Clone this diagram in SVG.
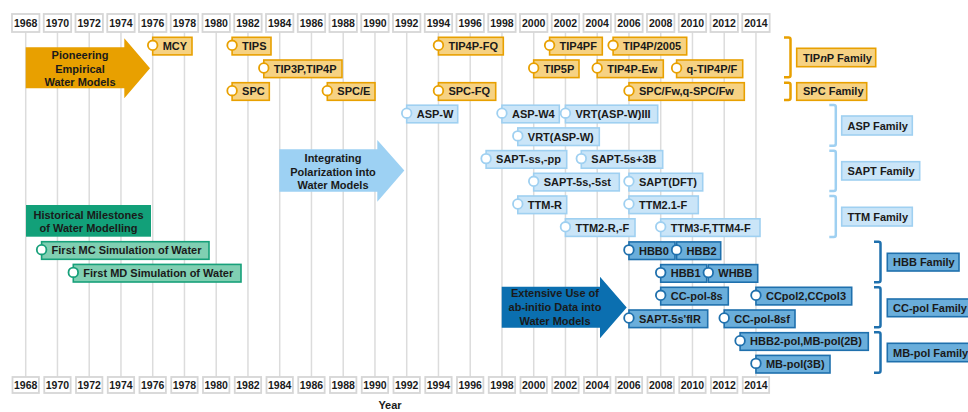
<svg xmlns="http://www.w3.org/2000/svg" width="968" height="412" viewBox="0 0 968 412">
<style>
text{font-family:"Liberation Sans",Arial,sans-serif;font-weight:bold;font-size:11px;fill:#1a1a1a}
.yr{font-size:10.5px;text-anchor:middle}
.ybox{fill:#fff;stroke:#d6d6d6;stroke-width:1.8}
.grid{stroke:#dcdcdc;stroke-width:1.5}
.o rect{fill:#f6d283;stroke:#e8a000;stroke-width:1.6}
.o circle{fill:#fff;stroke:#e8a000;stroke-width:1.8}
.l rect{fill:#cae5f8;stroke:#9fd0f1;stroke-width:1.6}
.l circle{fill:#fff;stroke:#9fd0f1;stroke-width:1.8}
.d rect{fill:#6aaedb;stroke:#1f70ad;stroke-width:1.6}
.d circle{fill:#fff;stroke:#1f70ad;stroke-width:1.8}
.g rect{fill:#80cfb2;stroke:#17a07a;stroke-width:1.6}
.g circle{fill:#fff;stroke:#17a07a;stroke-width:1.8}
.br{fill:none;stroke-width:2.5;stroke-linejoin:round}
.mid{text-anchor:middle}
</style>
<g id="grid">
<g class="grid">
<line x1="25.7" y1="32" x2="25.7" y2="377"/><line x1="57.45" y1="32" x2="57.45" y2="377"/><line x1="89.2" y1="32" x2="89.2" y2="377"/><line x1="120.95" y1="32" x2="120.95" y2="377"/><line x1="152.7" y1="32" x2="152.7" y2="377"/><line x1="184.45" y1="32" x2="184.45" y2="377"/><line x1="216.2" y1="32" x2="216.2" y2="377"/><line x1="247.95" y1="32" x2="247.95" y2="377"/><line x1="279.7" y1="32" x2="279.7" y2="377"/><line x1="311.45" y1="32" x2="311.45" y2="377"/><line x1="343.2" y1="32" x2="343.2" y2="377"/><line x1="374.95" y1="32" x2="374.95" y2="377"/><line x1="406.7" y1="32" x2="406.7" y2="377"/><line x1="438.45" y1="32" x2="438.45" y2="377"/><line x1="470.2" y1="32" x2="470.2" y2="377"/><line x1="501.95" y1="32" x2="501.95" y2="377"/><line x1="533.7" y1="32" x2="533.7" y2="377"/><line x1="565.45" y1="32" x2="565.45" y2="377"/><line x1="597.2" y1="32" x2="597.2" y2="377"/><line x1="628.95" y1="32" x2="628.95" y2="377"/><line x1="660.7" y1="32" x2="660.7" y2="377"/><line x1="692.45" y1="32" x2="692.45" y2="377"/><line x1="724.2" y1="32" x2="724.2" y2="377"/><line x1="755.95" y1="32" x2="755.95" y2="377"/>
</g>
</g>
<g id="axis-top">
<g class="ybox">
<rect x="12" y="14" width="27.4" height="18"/><rect x="43.75" y="14" width="27.4" height="18"/><rect x="75.5" y="14" width="27.4" height="18"/><rect x="107.25" y="14" width="27.4" height="18"/><rect x="139" y="14" width="27.4" height="18"/><rect x="170.75" y="14" width="27.4" height="18"/><rect x="202.5" y="14" width="27.4" height="18"/><rect x="234.25" y="14" width="27.4" height="18"/><rect x="266" y="14" width="27.4" height="18"/><rect x="297.75" y="14" width="27.4" height="18"/><rect x="329.5" y="14" width="27.4" height="18"/><rect x="361.25" y="14" width="27.4" height="18"/><rect x="393" y="14" width="27.4" height="18"/><rect x="424.75" y="14" width="27.4" height="18"/><rect x="456.5" y="14" width="27.4" height="18"/><rect x="488.25" y="14" width="27.4" height="18"/><rect x="520" y="14" width="27.4" height="18"/><rect x="551.75" y="14" width="27.4" height="18"/><rect x="583.5" y="14" width="27.4" height="18"/><rect x="615.25" y="14" width="27.4" height="18"/><rect x="647" y="14" width="27.4" height="18"/><rect x="678.75" y="14" width="27.4" height="18"/><rect x="710.5" y="14" width="27.4" height="18"/><rect x="742.25" y="14" width="27.4" height="18"/>
</g>
<g class="yr">
<text class="yr" x="25.7" y="27">1968</text><text class="yr" x="57.45" y="27">1970</text><text class="yr" x="89.2" y="27">1972</text><text class="yr" x="120.95" y="27">1974</text><text class="yr" x="152.7" y="27">1976</text><text class="yr" x="184.45" y="27">1978</text><text class="yr" x="216.2" y="27">1980</text><text class="yr" x="247.95" y="27">1982</text><text class="yr" x="279.7" y="27">1984</text><text class="yr" x="311.45" y="27">1986</text><text class="yr" x="343.2" y="27">1988</text><text class="yr" x="374.95" y="27">1990</text><text class="yr" x="406.7" y="27">1992</text><text class="yr" x="438.45" y="27">1994</text><text class="yr" x="470.2" y="27">1996</text><text class="yr" x="501.95" y="27">1998</text><text class="yr" x="533.7" y="27">2000</text><text class="yr" x="565.45" y="27">2002</text><text class="yr" x="597.2" y="27">2004</text><text class="yr" x="628.95" y="27">2006</text><text class="yr" x="660.7" y="27">2008</text><text class="yr" x="692.45" y="27">2010</text><text class="yr" x="724.2" y="27">2012</text><text class="yr" x="755.95" y="27">2014</text>
</g>
</g>
<g id="axis-bottom">
<g class="ybox">
<rect x="12.5" y="377" width="26.4" height="16"/><rect x="44.25" y="377" width="26.4" height="16"/><rect x="76" y="377" width="26.4" height="16"/><rect x="107.75" y="377" width="26.4" height="16"/><rect x="139.5" y="377" width="26.4" height="16"/><rect x="171.25" y="377" width="26.4" height="16"/><rect x="203" y="377" width="26.4" height="16"/><rect x="234.75" y="377" width="26.4" height="16"/><rect x="266.5" y="377" width="26.4" height="16"/><rect x="298.25" y="377" width="26.4" height="16"/><rect x="330" y="377" width="26.4" height="16"/><rect x="361.75" y="377" width="26.4" height="16"/><rect x="393.5" y="377" width="26.4" height="16"/><rect x="425.25" y="377" width="26.4" height="16"/><rect x="457" y="377" width="26.4" height="16"/><rect x="488.75" y="377" width="26.4" height="16"/><rect x="520.5" y="377" width="26.4" height="16"/><rect x="552.25" y="377" width="26.4" height="16"/><rect x="584" y="377" width="26.4" height="16"/><rect x="615.75" y="377" width="26.4" height="16"/><rect x="647.5" y="377" width="26.4" height="16"/><rect x="679.25" y="377" width="26.4" height="16"/><rect x="711" y="377" width="26.4" height="16"/><rect x="742.75" y="377" width="26.4" height="16"/>
</g>
<g>
<text class="yr" x="25.7" y="389">1968</text><text class="yr" x="57.45" y="389">1970</text><text class="yr" x="89.2" y="389">1972</text><text class="yr" x="120.95" y="389">1974</text><text class="yr" x="152.7" y="389">1976</text><text class="yr" x="184.45" y="389">1978</text><text class="yr" x="216.2" y="389">1980</text><text class="yr" x="247.95" y="389">1982</text><text class="yr" x="279.7" y="389">1984</text><text class="yr" x="311.45" y="389">1986</text><text class="yr" x="343.2" y="389">1988</text><text class="yr" x="374.95" y="389">1990</text><text class="yr" x="406.7" y="389">1992</text><text class="yr" x="438.45" y="389">1994</text><text class="yr" x="470.2" y="389">1996</text><text class="yr" x="501.95" y="389">1998</text><text class="yr" x="533.7" y="389">2000</text><text class="yr" x="565.45" y="389">2002</text><text class="yr" x="597.2" y="389">2004</text><text class="yr" x="628.95" y="389">2006</text><text class="yr" x="660.7" y="389">2008</text><text class="yr" x="692.45" y="389">2010</text><text class="yr" x="724.2" y="389">2012</text><text class="yr" x="755.95" y="389">2014</text>
</g>
<text class="mid" x="390" y="409">Year</text>
</g>

<g id="arrows">
<g id="arrow-pioneering">
<polygon points="25.7,47.3 124.3,47.3 124.3,38.3 150,68.3 124.3,98.3 124.3,88.3 25.7,88.3" fill="#e8a000"/>
<text class="mid" x="80" y="59">Pioneering</text>
<text class="mid" x="80" y="72.5">Empirical</text>
<text class="mid" x="80" y="86">Water Models</text>
</g>
<g id="arrow-polarization">
<polygon points="279.3,149.3 377.3,149.3 377.3,140 404.3,170.5 377.3,201.7 377.3,191.7 279.3,191.7" fill="#9dd1f3"/>
<text class="mid" x="333" y="162.3">Integrating</text>
<text class="mid" x="333" y="175.7">Polarization into</text>
<text class="mid" x="333" y="188.8">Water Models</text>
</g>
<g id="arrow-abinitio">
<polygon points="501.7,286.7 600,286.7 600,276.7 626.7,307.5 600,338.3 600,327.7 501.7,327.7" fill="#0b6fb0"/>
<text class="mid" x="555" y="297.3">Extensive Use of</text>
<text class="mid" x="555" y="311.2">ab-initio Data into</text>
<text class="mid" x="555" y="324.7">Water Models</text>
</g>
</g>

<g id="historical">
<rect x="26" y="205" width="125" height="31.7" fill="#12a079"/>
<text class="mid" x="88.5" y="219">Historical Milestones</text>
<text class="mid" x="88.5" y="232.3">of Water Modelling</text>
</g>

<g id="connectors">
<path class="br" stroke="#e8a000" d="M784,37.5 h4.5 q2,0 2,2 v35.8 q0,2 -2,2 h-4.5"/>
<path class="br" stroke="#e8a000" d="M784,82.7 h4.5 q2,0 2,2 v13.3 q0,2 -2,2 h-4.5"/>
<path class="br" stroke="#9fd0f1" d="M829.3,105 h4.5 q2,0 2,2 v36.7 q0,2 -2,2 h-4.5"/>
<path class="br" stroke="#9fd0f1" d="M829.3,150.7 h4.5 q2,0 2,2 v36.3 q0,2 -2,2 h-4.5"/>
<path class="br" stroke="#9fd0f1" d="M829.3,196 h4.5 q2,0 2,2 v37 q0,2 -2,2 h-4.5"/>
<path class="br" stroke="#1f70ad" d="M874,241.7 h4.5 q2,0 2,2 v36.6 q0,2 -2,2 h-4.5"/>
<path class="br" stroke="#1f70ad" d="M874,287.3 h4.5 q2,0 2,2 v36 q0,2 -2,2 h-4.5"/>
<path class="br" stroke="#1f70ad" d="M874,332.3 h4.5 q2,0 2,2 v36.4 q0,2 -2,2 h-4.5"/>
</g>

<g class="o">
<g id="mcy"><rect x="152.7" y="37.3" width="39.3" height="17.6"/><circle cx="152.7" cy="45.3" r="4.8"/><text x="162.7" y="50">MCY</text></g>
<g id="tips"><rect x="232.1" y="37.3" width="38.9" height="17.6"/><circle cx="232.1" cy="45.3" r="4.8"/><text x="242.1" y="50">TIPS</text></g>
<g id="tip4p-fq"><rect x="438.45" y="37.3" width="64.85" height="17.6"/><circle cx="438.45" cy="45.3" r="4.8"/><text x="448.45" y="50">TIP4P-FQ</text></g>
<g id="tip4pf"><rect x="549.6" y="37.3" width="52.7" height="17.6"/><circle cx="549.6" cy="45.3" r="4.8"/><text x="559.6" y="50">TIP4PF</text></g>
<g id="tip4p2005"><rect x="613.1" y="37.3" width="73.6" height="17.6"/><circle cx="613.1" cy="45.3" r="4.8"/><text x="623.1" y="50">TIP4P/2005</text></g>
<g id="tip3p"><rect x="263.8" y="60" width="78.2" height="17.6"/><circle cx="263.8" cy="68" r="4.8"/><text x="273.8" y="72.7">TIP3P,TIP4P</text></g>
<g id="tip5p"><rect x="533.7" y="60" width="45.3" height="17.6"/><circle cx="533.7" cy="68" r="4.8"/><text x="543.7" y="72.7">TIP5P</text></g>
<g id="tip4p-ew"><rect x="597.2" y="60" width="66.1" height="17.6"/><circle cx="597.2" cy="68" r="4.8"/><text x="607.2" y="72.7">TIP4P-Ew</text></g>
<g id="q-tip4pf"><rect x="676.6" y="60" width="66.1" height="17.6"/><circle cx="676.6" cy="68" r="4.8"/><text x="686.6" y="72.7">q-TIP4P/F</text></g>
<g id="spc"><rect x="232.1" y="82.7" width="37.2" height="17.6"/><circle cx="232.1" cy="90.7" r="4.8"/><text x="242.1" y="95.4">SPC</text></g>
<g id="spce"><rect x="327.3" y="82.7" width="47.7" height="17.6"/><circle cx="327.3" cy="90.7" r="4.8"/><text x="337.3" y="95.4">SPC/E</text></g>
<g id="spc-fq"><rect x="438.45" y="82.7" width="57.25" height="17.6"/><circle cx="438.45" cy="90.7" r="4.8"/><text x="448.45" y="95.4">SPC-FQ</text></g>
<g id="spcfw"><rect x="629" y="82.7" width="115.3" height="17.6"/><circle cx="629" cy="90.7" r="4.8"/><text x="639" y="95.4">SPC/Fw,q-SPC/Fw</text></g>
<g id="fam-tipnp"><rect x="796.7" y="48.3" width="79" height="18.4"/><text x="803" y="61.5">TIP<tspan font-style="italic">n</tspan>P Family</text></g>
<g id="fam-spc"><rect x="796.7" y="82.7" width="70" height="17.6"/><text x="803" y="95.4">SPC Family</text></g>
</g>

<g class="l">
<g id="asp-w"><rect x="406.7" y="105.2" width="51" height="17.6"/><circle cx="406.7" cy="113.2" r="4.8"/><text x="416.7" y="117.9">ASP-W</text></g>
<g id="asp-w4"><rect x="501.95" y="105.2" width="57.35" height="17.6"/><circle cx="501.95" cy="113.2" r="4.8"/><text x="511.95" y="117.9">ASP-W4</text></g>
<g id="vrt3"><rect x="565.45" y="105.2" width="92.25" height="17.6"/><circle cx="565.45" cy="113.2" r="4.8"/><text x="575.45" y="117.9">VRT(ASP-W)III</text></g>
<g id="vrt"><rect x="517.8" y="127.9" width="81.5" height="17.6"/><circle cx="517.8" cy="135.9" r="4.8"/><text x="527.8" y="140.6">VRT(ASP-W)</text></g>
<g id="sapt-ss"><rect x="486.1" y="150.6" width="80.6" height="17.6"/><circle cx="486.1" cy="158.6" r="4.8"/><text x="496.1" y="163.3">SAPT-ss,-pp</text></g>
<g id="sapt-5s3b"><rect x="581.3" y="150.6" width="81.4" height="17.6"/><circle cx="581.3" cy="158.6" r="4.8"/><text x="591.3" y="163.3">SAPT-5s+3B</text></g>
<g id="sapt-5s"><rect x="533.7" y="173.3" width="85.6" height="17.6"/><circle cx="533.7" cy="181.3" r="4.8"/><text x="543.7" y="186">SAPT-5s,-5st</text></g>
<g id="sapt-dft"><rect x="628.95" y="173.3" width="73.75" height="17.6"/><circle cx="628.95" cy="181.3" r="4.8"/><text x="638.95" y="186">SAPT(DFT)</text></g>
<g id="ttm-r"><rect x="517.8" y="196" width="48.9" height="17.6"/><circle cx="517.8" cy="204" r="4.8"/><text x="527.8" y="208.7">TTM-R</text></g>
<g id="ttm21"><rect x="628.95" y="196" width="69.35" height="17.6"/><circle cx="628.95" cy="204" r="4.8"/><text x="638.95" y="208.7">TTM2.1-F</text></g>
<g id="ttm2r"><rect x="565.45" y="218.8" width="69.55" height="17.6"/><circle cx="565.45" cy="226.8" r="4.8"/><text x="575.45" y="231.5">TTM2-R,-F</text></g>
<g id="ttm34"><rect x="660.7" y="218.8" width="99.3" height="17.6"/><circle cx="660.7" cy="226.8" r="4.8"/><text x="670.7" y="231.5">TTM3-F,TTM4-F</text></g>
<g id="fam-asp"><rect x="841.7" y="116" width="70.6" height="19"/><text x="847.5" y="129.6">ASP Family</text></g>
<g id="fam-sapt"><rect x="841.7" y="161.7" width="78" height="18.3"/><text x="847.5" y="175">SAPT Family</text></g>
<g id="fam-ttm"><rect x="841.7" y="207.3" width="70.6" height="18.7"/><text x="847.5" y="220.7">TTM Family</text></g>
</g>

<g class="d">
<g id="hbb0"><rect x="628.95" y="241.9" width="46.05" height="17.6"/><circle cx="628.95" cy="249.9" r="4.8"/><text x="638.95" y="254.6">HBB0</text></g>
<g id="hbb2"><rect x="676.6" y="241.9" width="44.1" height="17.6"/><circle cx="676.6" cy="249.9" r="4.8"/><text x="686.6" y="254.6">HBB2</text></g>
<g id="hbb1"><rect x="660.7" y="264.6" width="46" height="17.6"/><circle cx="660.7" cy="272.6" r="4.8"/><text x="670.7" y="277.3">HBB1</text></g>
<g id="whbb"><rect x="708.3" y="264.6" width="49.4" height="17.6"/><circle cx="708.3" cy="272.6" r="4.8"/><text x="718.3" y="277.3">WHBB</text></g>
<g id="ccpol8s"><rect x="660.7" y="287.3" width="67.6" height="17.6"/><circle cx="660.7" cy="295.3" r="4.8"/><text x="670.7" y="300">CC-pol-8s</text></g>
<g id="ccpol23"><rect x="755.95" y="287.3" width="95.75" height="17.6"/><circle cx="755.95" cy="295.3" r="4.8"/><text x="765.95" y="300">CCpol2,CCpol3</text></g>
<g id="sapt-fir"><rect x="628.95" y="310" width="78.75" height="17.6"/><circle cx="628.95" cy="318" r="4.8"/><text x="638.95" y="322.7">SAPT-5s'fIR</text></g>
<g id="ccpol8sf"><rect x="724.2" y="310" width="70.8" height="17.6"/><circle cx="724.2" cy="318" r="4.8"/><text x="734.2" y="322.7">CC-pol-8sf</text></g>
<g id="mbpol2b"><rect x="740.1" y="332.7" width="128.2" height="17.6"/><circle cx="740.1" cy="340.7" r="4.8"/><text x="750.1" y="345.4">HBB2-pol,MB-pol(2B)</text></g>
<g id="mbpol3b"><rect x="755.95" y="355.4" width="74.05" height="17.6"/><circle cx="755.95" cy="363.4" r="4.8"/><text x="765.95" y="368.1">MB-pol(3B)</text></g>
<g id="fam-hbb"><rect x="887.3" y="253.3" width="71.7" height="17.7"/><text x="893" y="266.3">HBB Family</text></g>
<g id="fam-ccpol"><rect x="887.3" y="299" width="90" height="17.7"/><text x="893" y="312">CC-pol Family</text></g>
<g id="fam-mbpol"><rect x="887.3" y="343.3" width="90" height="18.4"/><text x="893" y="356.6">MB-pol Family</text></g>
</g>

<g class="g">
<g id="first-mc"><rect x="41.6" y="241.7" width="167.4" height="17.6"/><circle cx="41.6" cy="249.7" r="4.8"/><text x="51.6" y="254.4">First MC Simulation of Water</text></g>
<g id="first-md"><rect x="73.3" y="264.4" width="167.7" height="17.6"/><circle cx="73.3" cy="272.4" r="4.8"/><text x="83.3" y="277.1">First MD Simulation of Water</text></g>
</g>
</svg>
